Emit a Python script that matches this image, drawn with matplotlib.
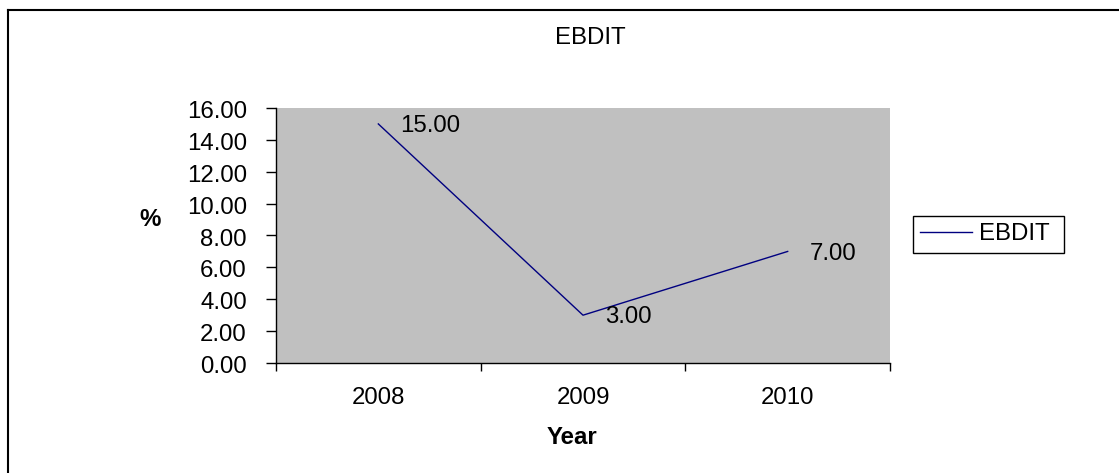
import matplotlib
matplotlib.use("Agg")
import matplotlib.pyplot as plt
from matplotlib.lines import Line2D
from matplotlib.transforms import ScaledTranslation

years = ["2008", "2009", "2010"]
ebdit = [15.00, 3.00, 7.00]
y_ticks = [0, 2, 4, 6, 8, 10, 12, 14, 16]

plt.rcParams["font.family"] = ["Liberation Sans", "DejaVu Sans"]
FS = 17.3

W, H = 1119, 473
fig = plt.figure(figsize=(W / 100, H / 100), dpi=100)
fig.patch.set_facecolor("white")

# chart frame (left and top edges visible)
fig.add_artist(Line2D([8 / W, 8 / W], [0, 1 - 10 / H], color="black", lw=1.5,
                      transform=fig.transFigure))
fig.add_artist(Line2D([8 / W, 1], [1 - 10 / H, 1 - 10 / H], color="black", lw=1.5,
                      transform=fig.transFigure))

ax = fig.add_axes([276 / W, 1 - 363 / H, (890 - 276) / W, (363 - 108) / H])
ax.set_facecolor("#C0C0C0")

x = list(range(len(years)))
line, = ax.plot(x, ebdit, color="#000080", lw=1.0, label="EBDIT ")
for xi, v in zip(x, ebdit):
    ax.annotate(f"{v:.2f}", (xi, v), xytext=(16, -1.5), textcoords="offset points",
                ha="left", va="center", fontsize=FS, color="black")

ax.set_xlim(-0.5, len(years) - 0.5)
ax.set_ylim(0, 16)
ax.set_yticks(y_ticks)
ax.set_yticklabels([f"{t:.2f}" for t in y_ticks], fontsize=FS)
ax.set_xticks(x)
ax.set_xticklabels(years, fontsize=FS)
ax.set_xticks([i - 0.5 for i in range(len(years) + 1)], minor=True)
ax.tick_params(axis="x", which="major", length=0, pad=17)
ax.tick_params(axis="x", which="minor", length=6, width=1, color="black")
ax.tick_params(axis="y", length=7, width=1, pad=14, color="black")

shift = ScaledTranslation(0, -1.5 / 100, fig.dpi_scale_trans)
for lbl in ax.get_yticklabels():
    lbl.set_transform(lbl.get_transform() + shift)

for s in ["top", "right"]:
    ax.spines[s].set_visible(False)
for s in ["left", "bottom"]:
    ax.spines[s].set_color("black")
    ax.spines[s].set_linewidth(1.0)

fig.text(590 / W, 1 - 38 / H, "EBDIT", fontsize=FS, ha="center", va="center")
fig.text(572 / W, 1 - 437 / H, "Year", fontsize=FS, fontweight="bold",
         ha="center", va="center")
fig.text(150 / W, 1 - 220 / H, "%", fontsize=FS, fontweight="bold",
         ha="center", va="center")

leg = fig.legend(handles=[line], loc="upper left",
                 bbox_to_anchor=(913 / W, 1 - 216 / H), fontsize=FS,
                 frameon=True, fancybox=False, shadow=False, framealpha=1,
                 edgecolor="black", handlelength=2.16, handletextpad=0.29,
                 borderpad=0.31, borderaxespad=0)
leg.get_frame().set_linewidth(1.0)

fig.savefig("out.png", dpi=100)
